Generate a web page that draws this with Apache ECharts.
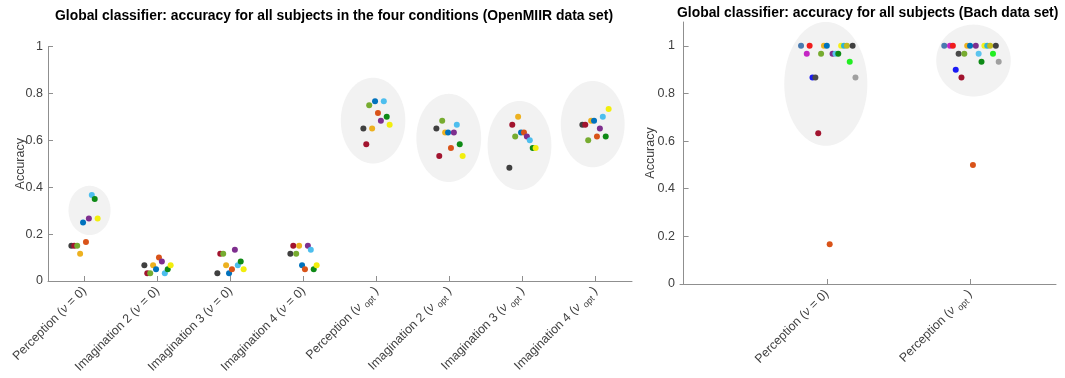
<!DOCTYPE html>
<html>
<head>
<meta charset="utf-8">
<script src="https://cdn.jsdelivr.net/npm/echarts@6/dist/echarts.min.js"></script>
<style>
  html, body { margin: 0; padding: 0; background: #ffffff; }
  #chart { width: 1065px; height: 378px; }
</style>
</head>
<body>
<div id="chart"></div>
<script>
// ---------- OpenMIIR data set: 10 subjects, 8 conditions ----------
const openCondNames = ['Perception', 'Imagination 2', 'Imagination 3', 'Imagination 4',
                       'Perception', 'Imagination 2', 'Imagination 3', 'Imagination 4'];
const openCondNu = ['0', '0', '0', '0', 'opt', 'opt', 'opt', 'opt'];

// subject colours and horizontal jitter (same order as the value arrays)
const openColors = ['#404040', '#A2142F', '#77AC30', '#EDB120', '#0072BD',
                    '#D95319', '#7E2F8E', '#4DBEEE', '#0E8A16', '#F2EE0C'];
const openJitter = [-0.18, -0.14, -0.10, -0.06, -0.02, 0.02, 0.06, 0.10, 0.14, 0.18];

// accuracy per subject for each condition
const perception0   = [0.1500, 0.1500, 0.1500, 0.1167, 0.2500, 0.1667, 0.2667, 0.3667, 0.3500, 0.2667];
const imagination2_0 = [0.0667, 0.0333, 0.0333, 0.0667, 0.0500, 0.1000, 0.0833, 0.0333, 0.0500, 0.0667];
const imagination3_0 = [0.0333, 0.1167, 0.1167, 0.0667, 0.0333, 0.0500, 0.1333, 0.0667, 0.0833, 0.0500];
const imagination4_0 = [0.1167, 0.1500, 0.1167, 0.1500, 0.0667, 0.0500, 0.1500, 0.1333, 0.0500, 0.0667];
const perceptionOpt   = [0.6500, 0.5833, 0.7500, 0.6500, 0.7667, 0.7167, 0.6833, 0.7667, 0.7000, 0.6667];
const imagination2Opt = [0.6500, 0.5333, 0.6833, 0.6333, 0.6333, 0.5667, 0.6333, 0.6667, 0.5833, 0.5333];
const imagination3Opt = [0.4833, 0.6667, 0.6167, 0.7000, 0.6333, 0.6333, 0.6167, 0.6000, 0.5667, 0.5667];
const imagination4Opt = [0.6667, 0.6667, 0.6000, 0.6833, 0.6833, 0.6167, 0.6500, 0.7000, 0.6167, 0.7333];
const openConditions = [perception0, imagination2_0, imagination3_0, imagination4_0,
                        perceptionOpt, imagination2Opt, imagination3Opt, imagination4Opt];

// shaded ellipses: centre (x, y) and radii (x, y) in axis units
const openEllCx = [1.069, 4.953, 5.990, 6.959, 7.962];
const openEllCy = [0.301, 0.684, 0.610, 0.578, 0.669];
const openEllRx = [0.288, 0.442, 0.444, 0.437, 0.437];
const openEllRy = [0.105, 0.183, 0.188, 0.190, 0.184];

// ---------- Bach data set: 19 subjects, 2 conditions ----------
const bachCondNames = ['Perception', 'Perception'];
const bachCondNu = ['0', 'opt'];
const bachColors = ['#4A7AB0', '#C425C4', '#F01C1C', '#1A1AF5', '#4A4A4A',
                    '#A2142F', '#77AC30', '#EDB120', '#0072BD', '#D95319',
                    '#7E2F8E', '#5BC4EE', '#0E8A16', '#F5F01A', '#2FB3D8',
                    '#C2BA1E', '#22EE22', '#404040', '#A0A0A0'];
const bachJitter = [-0.18, -0.14, -0.12, -0.10, -0.08, -0.06, -0.04, -0.02, 0.00, 0.02,
                    0.04, 0.06, 0.08, 0.10, 0.12, 0.14, 0.16, 0.18, 0.20];
const bachPerception0 = [1.0000, 0.9667, 1.0000, 0.8667, 0.8667, 0.6333, 0.9667, 1.0000, 1.0000, 0.1667,
                         0.9667, 0.9667, 0.9667, 1.0000, 1.0000, 1.0000, 0.9333, 1.0000, 0.8667];
const bachPerceptionOpt = [1.0000, 1.0000, 1.0000, 0.9000, 0.9667, 0.8667, 0.9667, 1.0000, 1.0000, 0.5000,
                           1.0000, 0.9667, 0.9333, 1.0000, 1.0000, 1.0000, 0.9667, 1.0000, 0.9333];
const bachConditions = [bachPerception0, bachPerceptionOpt];

const bachEllCx = [0.993, 2.024];
const bachEllCy = [0.840, 0.938];
const bachEllRx = [0.290, 0.260];
const bachEllRy = [0.260, 0.151];

const yTicks = [0, 0.2, 0.4, 0.6, 0.8, 1];

// ---------- helpers ----------
const FONT = 'Liberation Sans, Arial, sans-serif';
const TXT = '#404040';
const AXIS = '#8F8F8F';

function condLabel(name, nu) {
  if (nu === 'opt') return '{n|' + name + ' (}{i|\u03BD}{n| }{s|opt}{n| )}';
  return '{n|' + name + ' (}{i|\u03BD}{n| = ' + nu + ')}';
}

function ellipseItem(params, api) {
  const c = api.coord([api.value(0), api.value(1)]);
  const s = api.size([api.value(2), api.value(3)]);
  const pts = [];
  const n = 120;
  for (let k = 0; k < n; k++) {
    const t = k / n * Math.PI * 2;
    pts.push([c[0] + s[0] * Math.cos(t), c[1] + s[1] * Math.sin(t)]);
  }
  return { type: 'polygon', shape: { points: pts }, style: { fill: '#F2F2F2' }, silent: true };
}

function ellipseData(cx, cy, rx, ry) {
  return cx.map((v, k) => [v, cy[k], rx[k], ry[k]]);
}

function subjectSeries(conditions, jitter, colors, axisIndex) {
  return colors.map((col, s) => ({
    type: 'scatter',
    xAxisIndex: axisIndex,
    yAxisIndex: axisIndex,
    symbol: 'circle',
    symbolSize: 6,
    itemStyle: { color: col, opacity: 1 },
    emphasis: { disabled: true },
    z: 3,
    data: conditions.map((vals, c) => [c + 1 + jitter[s], vals[s]])
  }));
}

const richLabel = {
  n: { fontFamily: FONT, fontSize: 12.4, color: TXT, lineHeight: 18 },
  i: { fontFamily: FONT, fontSize: 12.4, color: TXT, fontStyle: 'italic', lineHeight: 18 },
  s: { fontFamily: FONT, fontSize: 9, color: TXT, lineHeight: 8, verticalAlign: 'bottom' }
};

function xAxisFor(gridIndex, min, max, names, nus) {
  const ticks = names.map((_, k) => k + 1);
  return {
    type: 'value', gridIndex: gridIndex, min: min, max: max,
    splitLine: { show: false },
    axisLine: { show: true, onZero: false, lineStyle: { color: AXIS, width: 1 } },
    axisTick: { show: true, inside: true, length: 5, customValues: ticks, lineStyle: { color: AXIS } },
    axisLabel: {
      show: true, rotate: 45, margin: 8, customValues: ticks,
      formatter: v => condLabel(names[Math.round(v) - 1], nus[Math.round(v) - 1]),
      rich: richLabel
    }
  };
}

function yAxisFor(gridIndex, max, nameGap) {
  return {
    type: 'value', gridIndex: gridIndex, min: 0, max: max,
    name: 'Accuracy', nameLocation: 'middle', nameRotate: 90, nameGap: nameGap,
    nameMoveOverlap: false,
    nameTextStyle: { fontFamily: FONT, fontSize: 12.5, color: TXT },
    splitLine: { show: false },
    axisLine: { show: true, lineStyle: { color: AXIS, width: 1 } },
    axisTick: { show: true, inside: true, length: 5, customValues: yTicks, lineStyle: { color: AXIS } },
    axisLabel: {
      show: true, margin: 5, customValues: yTicks,
      fontFamily: FONT, fontSize: 12.5, color: TXT,
      formatter: v => String(Math.round(v * 10) / 10)
    }
  };
}

const chart = echarts.init(document.getElementById('chart'), null, { renderer: 'canvas' });

chart.setOption({
  animation: false,
  backgroundColor: '#ffffff',
  title: [
    { text: 'Global classifier: accuracy for all subjects in the four conditions (OpenMIIR data set)',
      left: 55, top: 9, padding: 0,
      textStyle: { fontFamily: FONT, fontSize: 13.9, fontWeight: 'bold', color: '#000000' } },
    { text: 'Global classifier: accuracy for all subjects (Bach data set)',
      left: 677, top: 6, padding: 0,
      textStyle: { fontFamily: FONT, fontSize: 13.9, fontWeight: 'bold', color: '#000000' } }
  ],
  grid: [
    { left: 48, right: 433, top: 46.5, bottom: 97, outerBoundsMode: 'none', containLabel: false },
    { left: 680, right: 9, top: 22, bottom: 94, outerBoundsMode: 'none', containLabel: false }
  ],
  xAxis: [
    xAxisFor(0, 0.5, 8.5, openCondNames, openCondNu),
    xAxisFor(1, -0.025, 2.6, bachCondNames, bachCondNu)
  ],
  yAxis: [
    yAxisFor(0, 1, 21),
    yAxisFor(1, 1.1, 23)
  ],
  series: [
    { type: 'custom', xAxisIndex: 0, yAxisIndex: 0, z: 1, silent: true,
      renderItem: ellipseItem, data: ellipseData(openEllCx, openEllCy, openEllRx, openEllRy) },
    { type: 'custom', xAxisIndex: 1, yAxisIndex: 1, z: 1, silent: true,
      renderItem: ellipseItem, data: ellipseData(bachEllCx, bachEllCy, bachEllRx, bachEllRy) }
  ].concat(
    subjectSeries(openConditions, openJitter, openColors, 0),
    subjectSeries(bachConditions, bachJitter, bachColors, 1)
  )
});
</script>
</body>
</html>
